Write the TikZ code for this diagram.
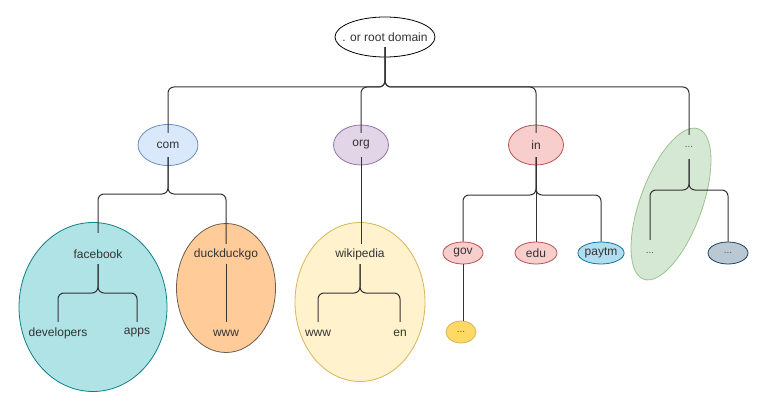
\documentclass[tikz,border=0pt]{standalone}
\usepackage{fontspec}
\setmainfont{Liberation Sans}
\usetikzlibrary{shapes.geometric}
\definecolor{ln}{HTML}{333333}
\definecolor{dotc}{HTML}{555555}
\definecolor{comF}{HTML}{DAE8FC}\definecolor{comD}{HTML}{6C8EBF}
\definecolor{orgF}{HTML}{E1D5E7}\definecolor{orgD}{HTML}{9673A6}
\definecolor{inF}{HTML}{F8CECC}\definecolor{inD}{HTML}{B85450}
\definecolor{grnF}{HTML}{D5E8D4}\definecolor{grnD}{HTML}{9AC38B}
\definecolor{tealF}{HTML}{B0E3E6}\definecolor{tealD}{HTML}{0E8088}
\definecolor{orF}{HTML}{FFCC99}\definecolor{orD}{HTML}{6D5C4D}
\definecolor{ylF}{HTML}{FFF2CC}\definecolor{ylD}{HTML}{D6B656}
\definecolor{goldF}{HTML}{FFD966}
\definecolor{blF}{HTML}{B1DDF0}\definecolor{blD}{HTML}{10739E}
\definecolor{gbF}{HTML}{BAC8D3}\definecolor{gbD}{HTML}{23445D}
\begin{document}
\begin{tikzpicture}[x=1pt,y=-1pt,
  shp/.style={ellipse, draw, line width=0.8pt, inner sep=0pt},
  lbl/.style={font=\fontsize{12}{14}\selectfont, text=ln, inner sep=0pt, minimum height=#1},
  lbl/.default=22pt,
  dotlbl/.style={font=\fontsize{10}{11}\selectfont, text=dotc, inner sep=0pt, minimum height=#1},
  dotlbl/.default=22pt,
  edge/.style={draw=ln, line width=1pt, rounded corners=6pt}]
\useasboundingbox (0,0) rectangle (773,417);
% shapes
\node[shp, fill=white, draw=black, minimum width=100pt, minimum height=40pt] (rootS) at (385,37) {};
\node[shp, fill=comF, draw=comD, minimum width=60pt, minimum height=41pt] (comS) at (168,145) {};
\node[shp, fill=orgF, draw=orgD, minimum width=55pt, minimum height=40pt] (orgS) at (361,145) {};
\node[shp, fill=inF, draw=inD, minimum width=55pt, minimum height=40pt] (inS) at (536,145) {};
\node[shp, fill=grnF, draw=grnD, minimum width=62pt, minimum height=160pt, rotate=-20] (grnS) at (671,204) {};
\node[shp, fill=tealF, draw=tealD, minimum width=148pt, minimum height=169pt] (fbS) at (93,307) {};
\node[shp, fill=orF, draw=orD, minimum width=99pt, minimum height=129pt] (ddgS) at (226,288) {};
\node[shp, fill=ylF, draw=ylD, minimum width=130pt, minimum height=159pt] (wikiS) at (360,302) {};
% labels
\node[lbl=20pt] (root) at (385,37) {. or root domain};
\node[lbl=24pt] (com) at (168,145) {com};
\node[lbl=24pt] (org) at (361,145) {org};
\node[lbl=24pt] (in) at (536,145) {in};
\node[dotlbl=24pt] (dA) at (689,147) {...};
\node[lbl=20pt] (fb) at (98,254) {facebook};
\node[lbl=20pt] (ddg) at (226,254) {duckduckgo};
\node[lbl=20pt] (wiki) at (360,254) {wikipedia};
\node[lbl] (dev) at (58,333) {developers};
\node[lbl] (apps) at (137,333) {apps};
\node[lbl] (wwwA) at (226,333) {www};
\node[lbl] (wwwB) at (318,333) {www};
\node[lbl] (en) at (400,333) {en};
\node[shp, fill=inF, draw=inD, minimum width=40pt, minimum height=31pt, lbl] (gov) at (463,253) {gov};
\node[shp, fill=inF, draw=inD, minimum width=42pt, minimum height=31pt, lbl] (edu) at (536,253) {edu};
\node[shp, fill=blF, draw=blD, minimum width=44pt, minimum height=31pt, lbl] (paytm) at (601,253) {paytm};
\node[shp, fill=goldF, draw=ylD, minimum width=30pt, minimum height=25pt, dotlbl] (gdots) at (461,332) {...};
\node[dotlbl=26pt] (dB) at (650,253) {...};
\node[shp, fill=gbF, draw=gbD, minimum width=40pt, minimum height=30pt, dotlbl] (dC) at (728,253) {...};
% junctions
\coordinate (j0) at (385,87);
\coordinate (j1) at (168,194);
\coordinate (j2) at (98,293);
\coordinate (j3) at (360,293);
\coordinate (j4) at (536,195);
\coordinate (j5) at (689,190);
% edges
\draw[edge] (root.south) -- (j0) -| (com.north);
\draw[edge] (root.south) -- (j0) -| (org.north);
\draw[edge] (root.south) -- (j0) -| (in.north);
\draw[edge] (root.south) -- (j0) -| (dA.north);
\draw[edge] (com.south) -- (j1) -| ([yshift=11pt]fb.north);
\draw[edge] (com.south) -- (j1) -| (ddg.north);
\draw[edge] (fb.south) -- (j2) -| (dev.north);
\draw[edge] (fb.south) -- (j2) -| (apps.north);
\draw[edge] (ddg.south) -- (wwwA.north);
\draw[edge] (org.south) -- (wiki.north -| org.south);
\draw[edge] (wiki.south) -- (j3) -| (wwwB.north);
\draw[edge] (wiki.south) -- (j3) -| (en.north);
\draw[edge] (in.south) -- (j4) -| (gov.north);
\draw[edge] (in.south) -- (edu.north);
\draw[edge] (in.south) -- (j4) -| (paytm.north);
\draw[edge] (gov.south) -- (gdots.north -| gov.south);
\draw[edge] (dA.south) -- (j5) -| (dB.north);
\draw[edge] (dA.south) -- (j5) -| (dC.north);
\end{tikzpicture}
\end{document}
